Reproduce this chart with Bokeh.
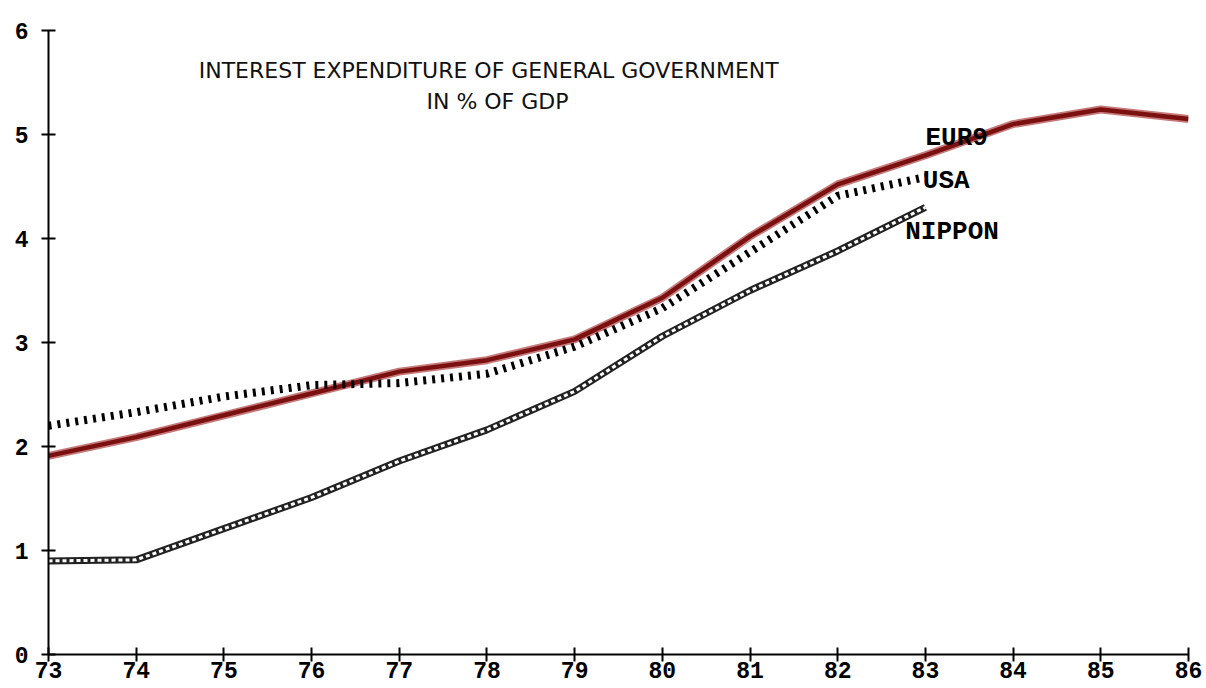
from bokeh.plotting import figure
from bokeh.models import Range1d, FixedTicker, Label
from bokeh.embed import file_html
from bokeh.resources import INLINE

# ---- data ----
years_eur = [73, 74, 75, 76, 77, 78, 79, 80, 81, 82, 83, 84, 85, 86]
eur9 = [1.91, 2.09, 2.30, 2.51, 2.72, 2.83, 3.03, 3.43, 4.02, 4.52, 4.80, 5.10, 5.24, 5.15]
years_83 = [73, 74, 75, 76, 77, 78, 79, 80, 81, 82, 83]
usa = [2.20, 2.33, 2.48, 2.59, 2.61, 2.70, 2.96, 3.33, 3.87, 4.41, 4.59]
nippon = [0.90, 0.91, 1.21, 1.51, 1.86, 2.16, 2.53, 3.06, 3.50, 3.88, 4.30]
x_ticks = [73, 74, 75, 76, 77, 78, 79, 80, 81, 82, 83, 84, 85, 86]
y_ticks = [0, 1, 2, 3, 4, 5, 6]
title_lines = ["INTEREST EXPENDITURE OF GENERAL GOVERNMENT", "IN % OF GDP"]
series_names = ["EUR9", "USA", "NIPPON"]

MONO = "Liberation Mono"

p = figure(width=1204, height=688, output_backend="svg", toolbar_location=None,
           x_range=Range1d(73, 86), y_range=Range1d(0, 6),
           min_border_left=48, min_border_right=16, min_border_top=30, min_border_bottom=34)
p.outline_line_color = None
p.xgrid.visible = False
p.ygrid.visible = False
p.background_fill_color = "white"

for ax in (p.xaxis[0], p.yaxis[0]):
    ax.axis_line_color = "black"
    ax.axis_line_width = 2
    ax.major_tick_line_color = "black"
    ax.major_tick_line_width = 2
    ax.major_tick_in = 7
    ax.major_tick_out = 7
    ax.minor_tick_line_color = None
    ax.major_label_text_font = MONO
    ax.major_label_text_font_style = "bold"
    ax.major_label_text_font_size = "23px"
    ax.major_label_text_color = "black"

p.xaxis[0].ticker = FixedTicker(ticks=x_ticks)
p.yaxis[0].ticker = FixedTicker(ticks=y_ticks)
p.xaxis[0].major_label_standoff = 0
p.yaxis[0].major_label_standoff = 13

# EUR9: thick dark-red line
p.line(years_eur, eur9, line_color="#a02020", line_width=8, line_alpha=0.6)
p.line(years_eur, eur9, line_color="#7a1010", line_width=4.5)

# USA: heavy dotted bars
p.line(years_83, usa, line_color="black", line_width=8, line_dash="3 6")

# NIPPON: chain of small rings
p.line(years_83, nippon, line_color="#222222", line_width=7)
p.line(years_83, nippon, line_color="white", line_width=3, line_dash="4 3")

# title text
p.add_layout(Label(x=78.02, y=5.62, text=title_lines[0], text_font="DejaVu Sans",
                   text_font_size="22px", text_align="center", text_baseline="middle",
                   text_color="#111111"))
p.add_layout(Label(x=78.12, y=5.32, text=title_lines[1], text_font="DejaVu Sans",
                   text_font_size="22px", text_align="center", text_baseline="middle",
                   text_color="#111111"))

# series labels
for name, xx, yy in zip(series_names, [83.0, 82.97, 82.77], [4.97, 4.55, 4.06]):
    p.add_layout(Label(x=xx, y=yy, text=name, text_font=MONO, text_font_style="bold",
                       text_font_size="26px", text_align="left", text_baseline="middle",
                       text_color="black"))

open("out.html", "w").write(file_html(p, INLINE))
